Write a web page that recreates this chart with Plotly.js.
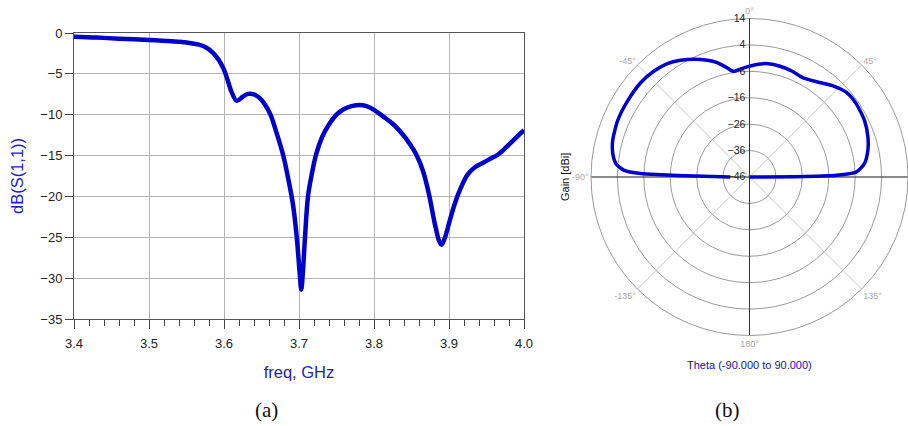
<!DOCTYPE html>
<html>
<head>
<meta charset="utf-8">
<script src="https://cdn.plot.ly/plotly-3.0.1.min.js"></script>
<style>html,body{margin:0;padding:0;background:#fff;}#chart{width:908px;height:426px;}</style>
</head>
<body>
<div id="chart"></div>
<script>
// ---- (a) S11 vs frequency ----
const freqGHz = [3.40,3.43,3.46,3.50,3.53,3.55,3.565,3.575,3.585,3.593,3.600,3.605,3.610,3.617,3.625,3.632,3.640,3.648,3.655,3.662,3.670,3.679,3.686,3.692,3.697,3.701,3.703,3.705,3.708,3.712,3.717,3.723,3.731,3.740,3.750,3.760,3.770,3.781,3.790,3.800,3.812,3.826,3.840,3.848,3.856,3.865,3.873,3.881,3.887,3.890,3.894,3.900,3.908,3.916,3.925,3.935,3.945,3.955,3.965,3.975,3.985,3.993,4.000];
const s11dB = [-0.45,-0.55,-0.7,-0.85,-1.0,-1.15,-1.4,-1.7,-2.4,-3.3,-4.5,-5.8,-7.2,-8.3,-7.8,-7.45,-7.5,-8.0,-8.8,-10.0,-12.2,-15.0,-18.0,-21.0,-25.0,-29.5,-31.4,-29.5,-25.0,-20.0,-17.3,-14.8,-12.7,-11.2,-10.0,-9.3,-8.95,-8.8,-8.95,-9.4,-10.2,-11.2,-12.6,-13.6,-14.8,-16.8,-19.6,-23.3,-25.5,-25.9,-25.2,-23.3,-20.8,-18.9,-17.3,-16.4,-15.9,-15.4,-14.9,-14.1,-13.2,-12.5,-11.9];
const xTickVals = [3.4,3.5,3.6,3.7,3.8,3.9,4.0];
const yTickVals = [0,-5,-10,-15,-20,-25,-30,-35];

// ---- (b) radiation pattern ----
const thetaDeg = [-90,-89.0,-88.5,-88.2,-87.0,-84.3,-80.3,-75.1,-66.8,-58.0,-49.0,-42.0,-35.9,-30.6,-25.3,-19.9,-15.8,-11.6,-8.6,-4.9,0.4,3.7,9.5,15.4,21.7,28.4,35.1,42.5,48.9,55.6,63.9,71.4,77.4,83.4,87.3,88.9,89.5,90];
const gainDBi = [-38.7,-25.0,-12.4,-4.8,1.5,4.8,6.5,7.6,8.3,8.4,8.5,8.0,7.0,5.3,3.3,1.0,-1.0,-3.8,-5.6,-5.0,-4.0,-3.3,-2.5,-2.5,-2.8,-3.3,-1.9,0.8,2.7,3.0,2.5,1.3,-0.1,-2.2,-5.5,-13.1,-25.0,-46];
const radialTicks = [-46,-36,-26,-16,-6,4,14];
const angleTickVals = [0,45,90,135,180,225,270,315];
const angleTickText = ['0°','45°','','135°','180°','-135°','-90°','-45°'];

const rMin = radialTicks[0], rMax = radialTicks[radialTicks.length-1];
const blue = '#0000CC';
const sans = 'Liberation Sans, Arial, sans-serif';

const traces = [
  {type:'scatter', x:freqGHz, y:s11dB, mode:'lines',
   line:{color:blue, width:4.5, shape:'spline', smoothing:1}, hoverinfo:'skip'},
  // polar axis cross lines (horizontal and downward)
  {type:'scatterpolar', r:[rMax, rMin, rMax], theta:[-90, 0, 90], mode:'lines',
   line:{color:'#333', width:1}, hoverinfo:'skip'},
  {type:'scatterpolar', r:[rMin, rMax], theta:[180, 180], mode:'lines',
   line:{color:'#333', width:1}, hoverinfo:'skip'},
  {type:'scatterpolar', r:gainDBi, theta:thetaDeg, mode:'lines',
   line:{color:blue, width:3.5, shape:'spline', smoothing:0.6}, hoverinfo:'skip'}
];

const W = 908, H = 426;
const layout = {
  width:W, height:H, margin:{l:0,r:0,t:0,b:0},
  paper_bgcolor:'#fff', plot_bgcolor:'#fff', showlegend:false,
  font:{family:sans, size:12, color:'#222'},
  xaxis:{
    domain:[74/W, 524/W], range:[3.4,4.0], tickvals:xTickVals, tickformat:'.1f',
    showgrid:true, gridcolor:'#b4b4b4', gridwidth:1, zeroline:false,
    showline:true, linecolor:'#555', linewidth:1, mirror:true,
    ticks:'outside', ticklen:9, tickcolor:'#444', tickwidth:1,
    minor:{dtick:0.02, tick0:3.4, ticks:'outside', ticklen:6, tickcolor:'#444', showgrid:false},
    tickfont:{family:sans, size:13, color:'#222'}, ticklabelstandoff:3,
    title:{text:'freq, GHz', font:{family:sans, size:16.5, color:'#1c1cc8'}, standoff:16}
  },
  yaxis:{
    domain:[1-319/H, 1-33/H], range:[-35,0], tickvals:yTickVals,
    showgrid:true, gridcolor:'#b4b4b4', gridwidth:1, zeroline:false,
    showline:true, linecolor:'#555', linewidth:1, mirror:true,
    ticks:'outside', ticklen:8, tickcolor:'#444', tickwidth:1,
    tickfont:{family:sans, size:13, color:'#222'},
    title:{text:'dB(S(1,1))', font:{family:sans, size:16.5, color:'#1c1cc8'}, standoff:12}
  },
  polar:{
    domain:{x:[591/W, 1], y:[1-336.5/H, 1-17.5/H]},
    bgcolor:'#fff',
    radialaxis:{range:[rMin, rMax], tickvals:radialTicks, angle:90, tickangle:90, showline:true, linecolor:'#333', linewidth:1,
      gridcolor:'#9a9a9a', gridwidth:1, side:'counterclockwise', ticks:'',
      tickfont:{family:sans, size:10.5, color:'#222'}},
    angularaxis:{rotation:90, direction:'clockwise', tickvals:angleTickVals, ticktext:angleTickText,
      gridcolor:'#c8c8c8', gridwidth:1, linecolor:'#9a9a9a', linewidth:1, ticks:'',
      tickfont:{family:sans, size:9, color:'#a8a8a8'}}
  },
  annotations:[
    {xref:'paper', yref:'paper', x:565/W, y:1-177/H, text:'Gain [dBi]', textangle:-90, showarrow:false,
     font:{family:sans, size:11, color:'#111'}, xanchor:'center', yanchor:'middle'},
    {xref:'paper', yref:'paper', x:749.5/W, y:1-365/H, text:'Theta (-90.000 to 90.000)', showarrow:false,
     font:{family:sans, size:11, color:'#1010c0'}, xanchor:'center', yanchor:'middle'},
    {xref:'paper', yref:'paper', x:266/W, y:1-410/H, text:'(a)', showarrow:false,
     font:{family:'Liberation Serif, serif', size:21, color:'#111'}, xanchor:'center', yanchor:'middle'},
    {xref:'paper', yref:'paper', x:727/W, y:1-410/H, text:'(b)', showarrow:false,
     font:{family:'Liberation Serif, serif', size:21, color:'#111'}, xanchor:'center', yanchor:'middle'}
  ]
};
Plotly.newPlot('chart', traces, layout, {staticPlot:true, displayModeBar:false});
</script>
</body>
</html>
